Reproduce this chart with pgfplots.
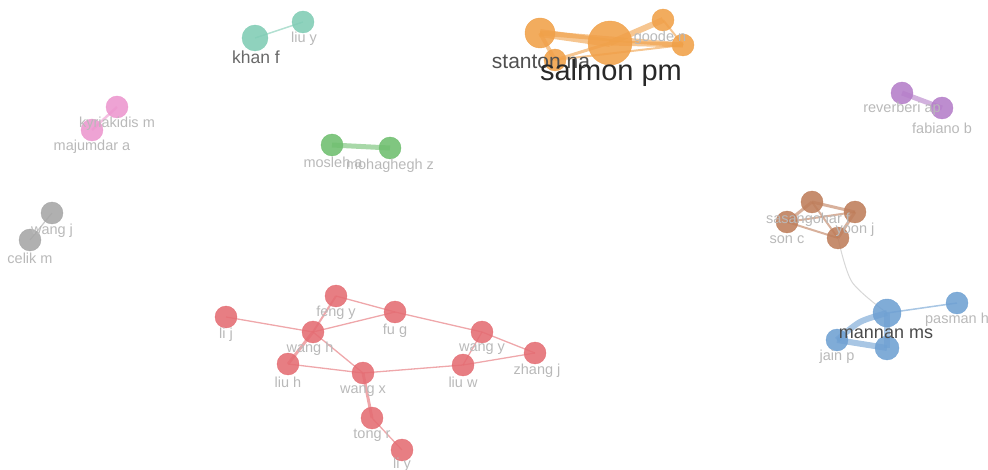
\documentclass[border=0pt]{standalone}
\usepackage{pgfplots}
\pgfplotsset{compat=1.18}
\usepackage{fontspec}
\setmainfont{Liberation Sans}
\definecolor{cred}{RGB}{228,108,114}
\definecolor{cora}{RGB}{240,160,72}
\definecolor{cteal}{RGB}{128,204,180}
\definecolor{cpink}{RGB}{236,150,206}
\definecolor{cgreen}{RGB}{110,190,110}
\definecolor{cgray}{RGB}{165,165,165}
\definecolor{cpurp}{RGB}{180,125,200}
\definecolor{cbrown}{RGB}{190,125,90}
\definecolor{cblue}{RGB}{110,160,210}
\definecolor{lbl}{RGB}{185,185,185}
\newcommand{\edge}[4]{\addplot[#1, line width=#2pt, opacity=0.6] coordinates {#3 #4};}
\pgfplotsset{nd/.style 2 args={only marks, mark=*, mark size=#2pt, color=#1, mark options={draw=#1, fill=#1, fill opacity=0.88, draw opacity=0.88}}}
\begin{document}
\begin{tikzpicture}
\begin{axis}[
  scale only axis, width=988pt, height=470pt,
  xmin=0, xmax=988, ymin=0, ymax=470, y dir=reverse,
  hide axis, clip=true,
]
% orange edges
\edge{cora}{8}{(540,33)}{(610,43)}
\edge{cora}{4}{(540,33)}{(555,60)}
\edge{cora}{3}{(555,60)}{(610,43)}
\edge{cora}{6}{(610,43)}{(663,20)}
\edge{cora}{5}{(610,43)}{(683,45)}
\edge{cora}{2}{(663,20)}{(683,45)}
\edge{cora}{2}{(555,60)}{(683,45)}
\edge{cora}{5}{(540,33)}{(683,45)}
% teal, pink, green, gray, purple
\edge{cteal}{1.5}{(255,38)}{(303,22)}
\edge{cpink}{2.5}{(117,107)}{(92,130)}
\edge{cgreen}{5}{(332,145)}{(390,148)}
\edge{cgray}{1.2}{(52,213)}{(30,240)}
\edge{cpurp}{5}{(902,93)}{(942,108)}
% brown
\edge{cbrown}{3}{(812,202)}{(855,212)}
\edge{cbrown}{3}{(812,202)}{(787,222)}
\edge{cbrown}{2}{(787,222)}{(838,238)}
\edge{cbrown}{3}{(855,212)}{(838,238)}
\edge{cbrown}{2}{(812,202)}{(838,238)}
\edge{cbrown}{2}{(787,222)}{(855,212)}
\addplot[color={rgb,255:red,215;green,215;blue,215}, line width=1pt, smooth] coordinates {(838,238) (852,282) (887,313)};
% blue
\addplot[cblue, line width=6pt, opacity=0.6, smooth] coordinates {(837,340) (860,322) (887,313)};
\edge{cblue}{6}{(887,313)}{(887,348)}
\edge{cblue}{6}{(837,340)}{(887,348)}
\edge{cblue}{1.5}{(887,313)}{(957,303)}
% red
\edge{cred}{1.3}{(226,317)}{(313,332)}
\edge{cred}{1.3}{(313,332)}{(395,312)}
\edge{cred}{1.3}{(336,296)}{(395,312)}
\edge{cred}{2}{(336,296)}{(313,332)}
\edge{cred}{3}{(313,332)}{(288,364)}
\edge{cred}{1.3}{(313,332)}{(363,373)}
\edge{cred}{1.3}{(288,364)}{(363,373)}
\edge{cred}{1.3}{(363,373)}{(463,365)}
\edge{cred}{1.3}{(395,312)}{(482,332)}
\edge{cred}{1.3}{(482,332)}{(535,353)}
\edge{cred}{1.3}{(463,365)}{(535,353)}
\edge{cred}{1.3}{(482,332)}{(463,365)}
\edge{cred}{3}{(363,373)}{(372,418)}
\edge{cred}{1.3}{(372,418)}{(402,450)}
% nodes
\addplot[nd={cred}{11}] table {
x y
226 317
336 296
395 312
313 332
288 364
363 373
482 332
463 365
535 353
372 418
402 450
};
\addplot[nd={cora}{11}] table {
x y
555 60
663 20
683 45
};
\addplot[nd={cora}{15}] table {
x y
540 33
};
\addplot[nd={cora}{22}] table {
x y
610 43
};
\addplot[nd={cteal}{13}] table {
x y
255 38
};
\addplot[nd={cteal}{11}] table {
x y
303 22
};
\addplot[nd={cpink}{11}] table {
x y
117 107
92 130
};
\addplot[nd={cgreen}{11}] table {
x y
332 145
390 148
};
\addplot[nd={cgray}{11}] table {
x y
52 213
30 240
};
\addplot[nd={cpurp}{11}] table {
x y
902 93
942 108
};
\addplot[nd={cbrown}{11}] table {
x y
812 202
855 212
787 222
838 238
};
\addplot[nd={cblue}{11}] table {
x y
837 340
957 303
};
\addplot[nd={cblue}{12}] table {
x y
887 348
};
\addplot[nd={cblue}{14}] table {
x y
887 313
};
% light labels
\addplot[only marks, mark=none, nodes near coords, point meta=explicit symbolic,
  nodes near coords style={anchor=center, text=lbl, font=\fontsize{14.5}{16}\selectfont, inner sep=0pt}]
  table[meta=label] {
x y label
226 335 {li j}
336 313 {feng y}
395 331 {fu g}
310 349 {wang h}
288 382 {liu h}
363 391 {wang x}
482 349 {wang y}
463 382 {liu w}
537 371 {zhang j}
372 435 {tong r}
402 465 {li y}
304 39 {liu y}
660 38 {goode n}
117 124 {kyriakidis m}
92 147 {majumdar a}
333 162 {mosleh a}
390 166 {mohaghegh z}
52 231 {wang j}
30 258 {celik m}
902 109 {reverberi ap}
942 128 {fabiano b}
808 220 {sasangohar f}
855 230 {yoon j}
787 240 {son c}
837 357 {jain p}
957 320 {pasman h}
};
\addplot[only marks, mark=none, nodes near coords, point meta=explicit symbolic,
  nodes near coords style={anchor=center, text={rgb,255:red,105;green,105;blue,105}, font=\fontsize{17.5}{19}\selectfont, inner sep=0pt}]
  table[meta=label] {
x y label
256 57 {khan f}
};
\addplot[only marks, mark=none, nodes near coords, point meta=explicit symbolic,
  nodes near coords style={anchor=center, text={rgb,255:red,80;green,80;blue,80}, font=\fontsize{21}{23}\selectfont, inner sep=0pt}]
  table[meta=label] {
x y label
541 62 {stanton na}
};
\addplot[only marks, mark=none, nodes near coords, point meta=explicit symbolic,
  nodes near coords style={anchor=center, text={rgb,255:red,75;green,75;blue,75}, font=\fontsize{18}{20}\selectfont, inner sep=0pt}]
  table[meta=label] {
x y label
886 334 {mannan ms}
};
\addplot[only marks, mark=none, nodes near coords, point meta=explicit symbolic,
  nodes near coords style={anchor=center, text={rgb,255:red,40;green,40;blue,40}, font=\fontsize{29}{31}\selectfont, inner sep=0pt}]
  table[meta=label] {
x y label
611 73 {salmon pm}
};
\end{axis}
\pgfresetboundingbox
\useasboundingbox (current axis.south west) rectangle (current axis.north east);
\end{tikzpicture}
\end{document}
